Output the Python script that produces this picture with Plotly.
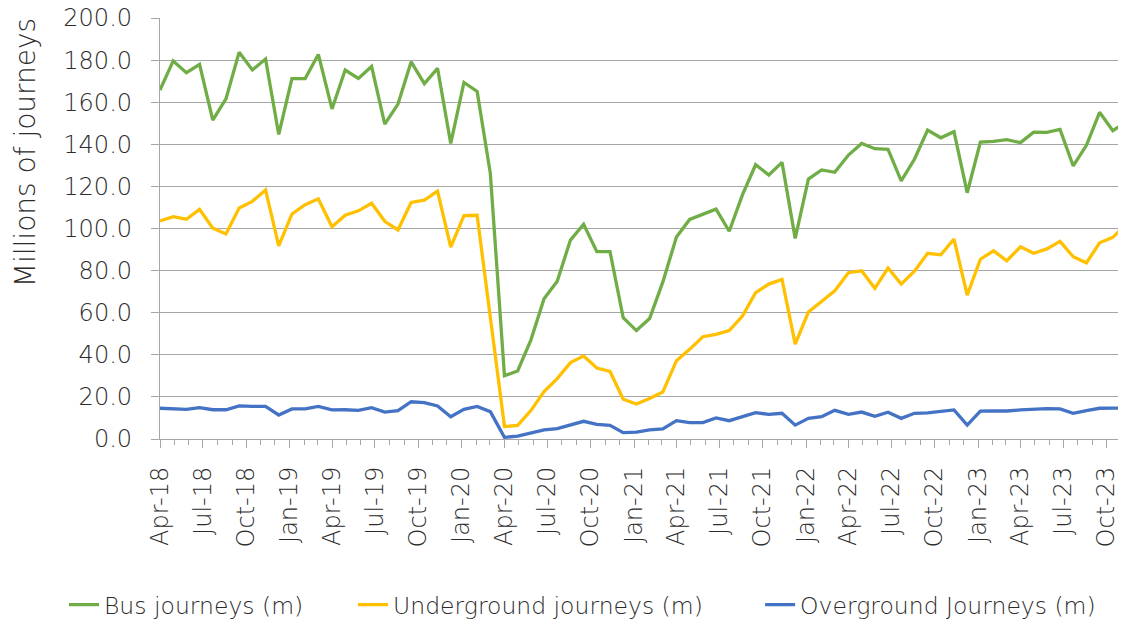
from datetime import date, timedelta
import plotly.graph_objects as go

# TfL 4-weekly periods: 13 per financial year, each year restarting on 1 April
periods = []
for fy in range(2018, 2024):
    for p in range(13):
        periods.append(date(fy, 4, 1) + timedelta(days=28 * p))
periods = periods[:74]  # up to period 9 of 2023/24

bus = [
    165.8, 179.6, 174.0, 178.0, 151.5, 161.6, 183.7, 175.3, 180.5, 144.7, 171.2, 171.2, 182.7,
    156.8, 175.3, 171.3, 177.0, 149.6, 159.1, 179.2, 168.8, 176.1, 140.4, 169.4, 165.1, 126.2,
    30.1, 32.3, 47.0, 66.6, 75.0, 94.5, 102.0, 89.0, 89.0, 57.6, 51.5, 57.2, 74.5,
    96.0, 104.3, 106.8, 109.2, 98.7, 116.0, 130.3, 125.4, 131.4, 95.3, 123.5, 127.8, 126.7,
    134.9, 140.4, 137.9, 137.6, 122.6, 132.9, 146.8, 143.1, 146.0, 117.0, 141.1, 141.4, 142.2,
    140.8, 145.8, 145.7, 147.1, 129.7, 139.5, 155.2, 146.5, 150.7,
]
underground = [
    103.6, 105.6, 104.4, 109.1, 100.2, 97.4, 109.7, 112.9, 118.3, 91.7, 106.9, 111.3, 114.1,
    100.8, 106.3, 108.4, 112.0, 103.4, 99.3, 112.4, 113.5, 117.7, 91.1, 106.1, 106.3, 58.4,
    5.9, 6.5, 13.5, 22.5, 28.7, 36.3, 39.4, 33.7, 32.1, 18.9, 16.6, 19.2, 22.3,
    37.2, 42.6, 48.6, 49.7, 51.5, 58.4, 69.5, 73.6, 75.8, 45.1, 60.3, 65.2, 70.4,
    79.0, 79.9, 71.6, 81.2, 73.6, 79.7, 88.2, 87.5, 95.0, 68.3, 85.4, 89.4, 84.7,
    91.3, 88.2, 90.3, 93.9, 86.6, 83.7, 93.2, 95.8, 102.0,
]
overground = [
    14.6, 14.3, 14.1, 14.9, 13.9, 13.9, 15.7, 15.5, 15.5, 11.4, 14.3, 14.3, 15.5,
    13.8, 13.9, 13.6, 14.9, 12.8, 13.5, 17.7, 17.3, 15.7, 10.6, 14.1, 15.5, 13.0,
    0.8, 1.4, 2.7, 4.3, 4.9, 6.5, 8.4, 7.0, 6.5, 3.0, 3.3, 4.3, 4.8,
    8.7, 7.8, 7.8, 10.0, 8.7, 10.6, 12.5, 11.7, 12.2, 6.6, 9.8, 10.6, 13.6,
    11.7, 12.8, 10.8, 12.7, 9.8, 12.2, 12.4, 13.2, 13.8, 6.6, 13.2, 13.3, 13.3,
    13.8, 14.1, 14.4, 14.3, 12.2, 13.5, 14.6, 14.7, 14.7,
]

# quarterly axis labels
tick_dates = []
tick_labels = []
for y in range(2018, 2024):
    for m, name in [(1, "Jan"), (4, "Apr"), (7, "Jul"), (10, "Oct")]:
        d = date(y, m, 1)
        if date(2018, 4, 1) <= d <= date(2023, 10, 1):
            tick_dates.append(d)
            tick_labels.append(f"{name}-{str(y)[2:]}")

FONT = "DejaVu Sans"
GRID = "#A6A6A6"
NB = "\u00a0"  # non-breaking spaces widen the gaps between legend entries

fig = go.Figure()
series = [
    ("Bus journeys (m)" + NB * 6, bus, "#70AD47"),
    ("Underground journeys (m)" + NB * 7, underground, "#FFC000"),
    ("Overground Journeys (m)", overground, "#4472C4"),
]
for name, vals, col in series:
    fig.add_trace(go.Scatter(
        x=periods, y=vals, name=name, mode="lines",
        line=dict(color=col, width=3.3), cliponaxis=False,
    ))

# page body has an 8px margin, so the figure is 8px smaller than the window
fig.update_layout(
    width=1118, height=615,
    margin=dict(l=152, r=0, t=10, b=184, autoexpand=False),
    plot_bgcolor="white", paper_bgcolor="white",
    font=dict(family=FONT, size=22, color="#2b2b2b", weight=300),
    legend=dict(
        orientation="h", xref="paper", yref="paper",
        x=-0.0994, xanchor="left", y=-0.394, yanchor="middle",
        font=dict(size=23.5), itemwidth=30, tracegroupgap=0,
    ),
    annotations=[dict(
        text="Millions of journeys", textangle=-90, showarrow=False,
        xref="paper", x=0, xshift=-135, xanchor="center",
        yref="paper", y=0.679, yanchor="middle",
        font=dict(size=28),
    )],
)
fig.update_xaxes(
    type="date", range=[date(2018, 4, 1), periods[-1]],
    tickvals=tick_dates, ticktext=tick_labels, tickangle=-90,
    ticks="outside", ticklen=8, tickcolor=GRID, tickwidth=1.3,
    minor=dict(dtick="M1", ticks="outside", ticklen=5, tickcolor=GRID, showgrid=False),
    showline=True, linecolor=GRID, linewidth=1.3, showgrid=False,
    tickfont=dict(size=24), ticklabelstandoff=9,
)
fig.update_yaxes(
    range=[0, 200], dtick=20, tickformat=".1f",
    ticks="outside", ticklen=8, tickcolor=GRID, tickwidth=1.3,
    showline=True, linecolor=GRID, linewidth=1.3,
    showgrid=True, gridcolor=GRID, gridwidth=1.3, zeroline=False,
    tickfont=dict(size=24), ticklabelstandoff=14, ticklabeloverflow="allow",
)

fig.write_html("out.html")
